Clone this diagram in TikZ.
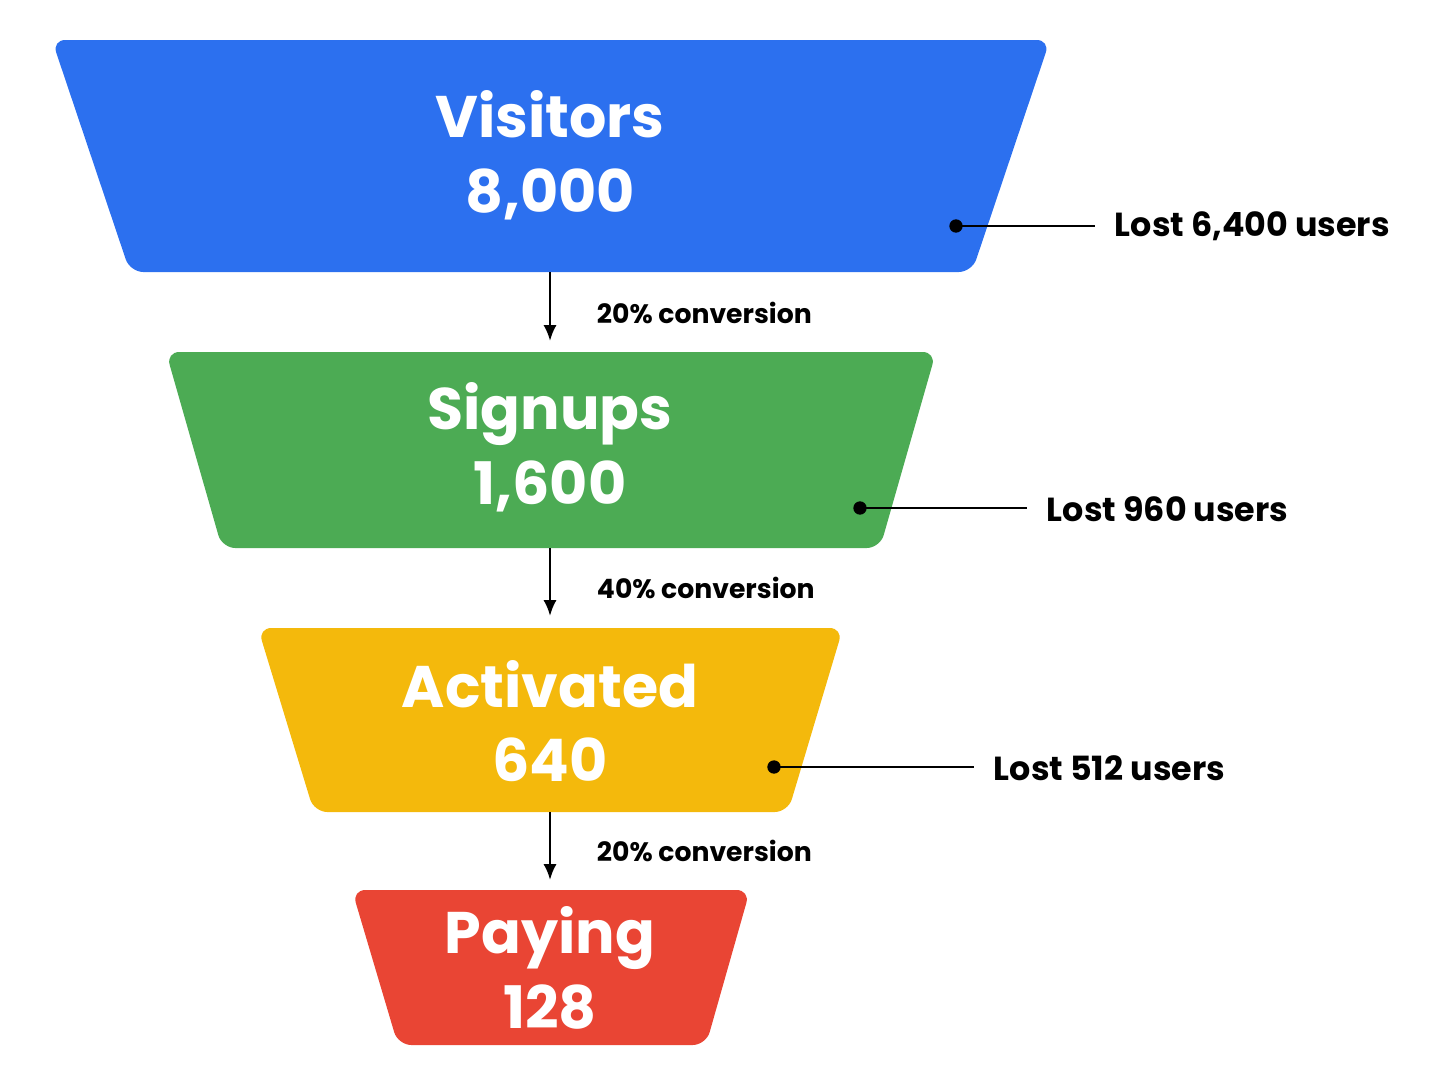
\documentclass[tikz,border=0pt]{standalone}
\usepackage{fontspec}
\usetikzlibrary{arrows.meta}
\setmainfont{Poppins}
\definecolor{cBlue}{RGB}{44,112,239}
\definecolor{cGreen}{RGB}{76,171,84}
\definecolor{cYellow}{RGB}{244,185,12}
\definecolor{cRed}{RGB}{233,69,52}
\tikzset{every picture/.style={line width=0.75pt}}
\tikzset{
  stage/.style={rounded corners=10pt, draw=none},
  stagetext/.style={text=white, font=\fontsize{44}{56}\selectfont\bfseries, align=center},
  convtext/.style={anchor=west, font=\fontsize{20}{24}\selectfont\bfseries},
  losttext/.style={anchor=west, font=\fontsize{25}{30}\selectfont\bfseries},
  flow/.style={-{Latex[length=12pt,width=10pt]}, line width=2pt},
  leader/.style={line width=1.8pt},
  dot/.style={circle, fill=black, inner sep=0pt, minimum size=10pt}
}
\begin{document}
\begin{tikzpicture}[x=0.75pt,y=0.75pt,yscale=-1,xscale=1]
	\useasboundingbox (0,0) rectangle (1448,1086);

	%Shape: Trapezoid [Visitors]
	\fill [cBlue, stage] (52,40) -- (1050,40) -- (972,272) -- (130,272) -- cycle ;
	%Shape: Trapezoid [Signups]
	\fill [cGreen, stage] (166,352) -- (936,352) -- (880,548) -- (222,548) -- cycle ;
	%Shape: Trapezoid [Activated]
	\fill [cYellow, stage] (258,628) -- (843,628) -- (788,812) -- (314,812) -- cycle ;
	%Shape: Trapezoid [Paying]
	\fill [cRed, stage] (352,890) -- (750,890) -- (706,1045) -- (398,1045) -- cycle ;

	% Text Node
	\node [stagetext] (visitors) at (550,155) {Visitors\\8,000};
	% Text Node
	\node [stagetext] (signups) at (550,447) {Signups\\1,600};
	% Text Node
	\node [stagetext] (activated) at (550,721) {Activated\\640};
	% Text Node
	\node [stagetext] (paying) at (550,968) {Paying\\128};

	%Straight Lines [arrows]
	\coordinate (vBot) at (550,272);  \coordinate (sTop) at (550,341);
	\coordinate (sBot) at (550,548);  \coordinate (aTop) at (550,616);
	\coordinate (aBot) at (550,812);  \coordinate (pTop) at (550,880);
	\draw [flow] (vBot) -- (sTop) ;
	\draw [flow] (sBot) -- (aTop) ;
	\draw [flow] (aBot) -- (pTop) ;

	% Text Node
	\node [convtext] (conv1) at (592,313) {20\% conversion};
	% Text Node
	\node [convtext] (conv2) at (592,588) {40\% conversion};
	% Text Node
	\node [convtext] (conv3) at (592,851) {20\% conversion};

	%Straight Lines [lost]
	\node [dot] (d1) at (956,226) {};
	\node [losttext] (lost1) at (1110,226) {Lost 6,400 users};
	\draw [leader] (d1.center) -- (1095,226) ;
	\node [dot] (d2) at (860,508) {};
	\node [losttext] (lost2) at (1042,509) {Lost 960 users};
	\draw [leader] (d2.center) -- (1027,508) ;
	\node [dot] (d3) at (774,767) {};
	\node [losttext] (lost3) at (989,768) {Lost 512 users};
	\draw [leader] (d3.center) -- (974,767) ;

\end{tikzpicture}
\end{document}
